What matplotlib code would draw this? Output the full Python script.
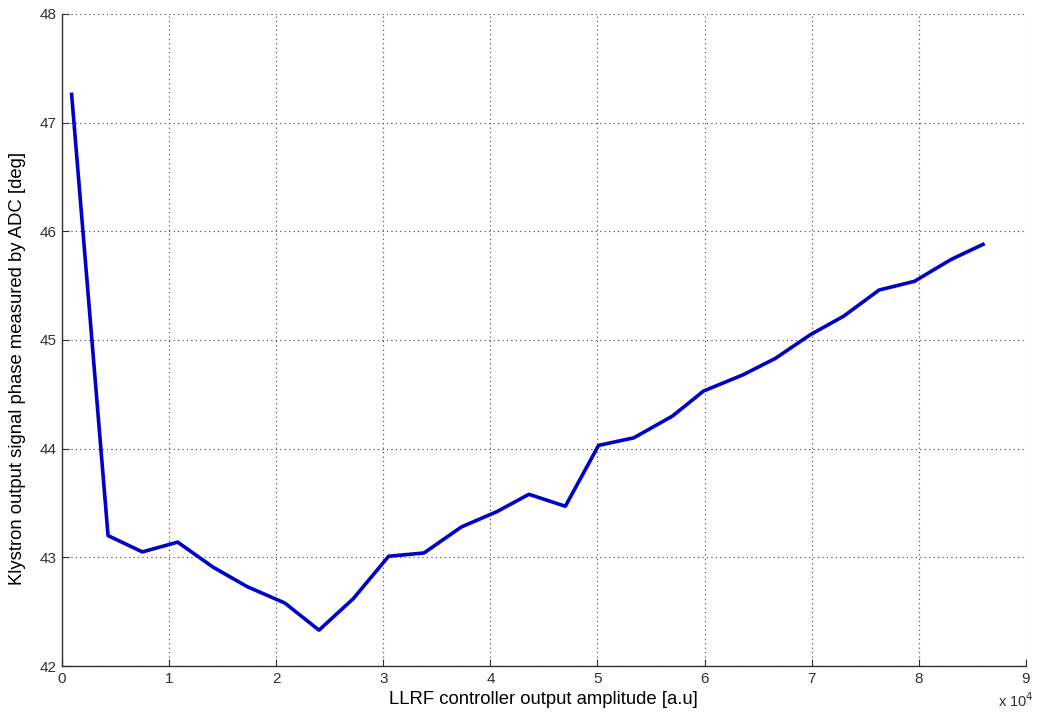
import matplotlib
matplotlib.use("Agg")
import matplotlib.pyplot as plt
from matplotlib.ticker import FuncFormatter, MultipleLocator

plt.rcParams['font.family'] = ['Liberation Sans', 'DejaVu Sans']

# Controller output amplitude (a.u.) and measured klystron phase (deg)
amplitude = [900, 4300, 7500, 10800, 14100, 17300, 20800, 24000, 27200,
             30500, 33800, 37300, 40600, 43600, 47000, 50100, 53400, 57000,
             59900, 63600, 66600, 69900, 73000, 76300, 79600, 83000, 86000]
phase_deg = [47.26, 43.20, 43.05, 43.14, 42.91, 42.73, 42.58, 42.33, 42.62,
             43.01, 43.04, 43.28, 43.42, 43.58, 43.47, 44.03, 44.10, 44.30,
             44.53, 44.68, 44.83, 45.05, 45.22, 45.46, 45.54, 45.74, 45.88]

x_label = "LLRF controller output amplitude [a.u]"
y_label = "Klystron output signal phase measured by ADC [deg]"

fig = plt.figure(figsize=(10.42, 7.13), dpi=100)
ax = fig.add_axes([0.0595, 0.0659, 0.925, 0.9145])

ax.plot(amplitude, phase_deg, color='#0000c8', linewidth=2.6, solid_joinstyle='round')

ax.set_xlim(0, 90000)
ax.set_ylim(42, 48)
ax.xaxis.set_major_locator(MultipleLocator(10000))
ax.yaxis.set_major_locator(MultipleLocator(1))
ax.xaxis.set_major_formatter(FuncFormatter(lambda v, p: f"{v/1e4:g}"))

ax.grid(True, color='#404040', linestyle=(0, (1, 3)), linewidth=0.8)
for side in ('top', 'right'):
    ax.spines[side].set_visible(False)
for side in ('left', 'bottom'):
    ax.spines[side].set_color('#303030')
    ax.spines[side].set_linewidth(1.0)

ax.tick_params(direction='in', length=5, width=0.8, colors='#303030',
               labelsize=11, pad=4)

ax.set_xlabel(x_label, fontsize=13.3, labelpad=4)
ax.set_ylabel(y_label, fontsize=13.3)
ax.yaxis.set_label_coords(-0.037, 0.457)

fig.text(0.958, 0.004, r"x 10$^{4}$", fontsize=10.5, color='#303030',
         ha='left', va='bottom')

fig.savefig("out.png", dpi=100, facecolor='white')
